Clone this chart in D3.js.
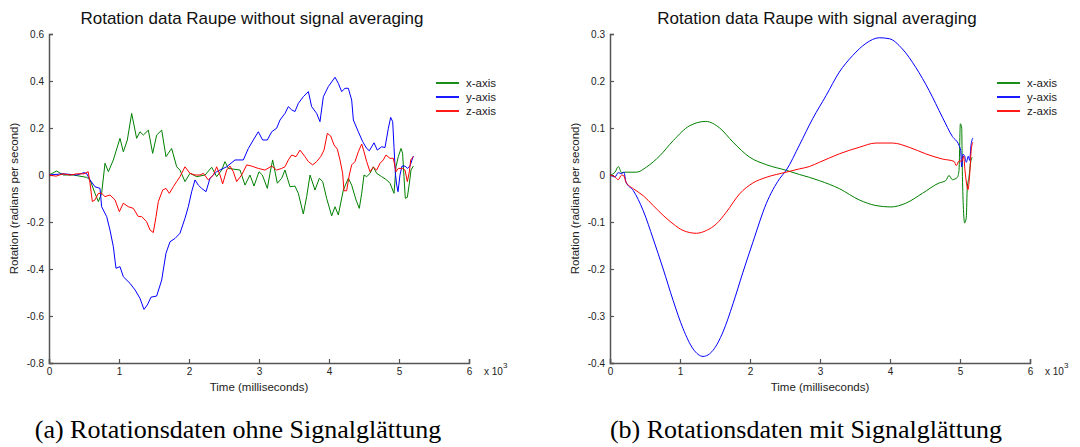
<!DOCTYPE html>
<html>
<head>
<meta charset="utf-8">
<script src="https://cdn.jsdelivr.net/npm/d3@7"></script>
<style>
  body { margin: 0; background: #fff; }
  svg { display: block; }
</style>
</head>
<body>
<div id="chart"></div>
<script>
// Series: [time (ms), rotation (rad/s)]
const rawX = [[0,0],[110,0.017],[205,0],[348,0],[443,-0.005],[538,-0.01],[586,-0.021],[657,-0.078],[705,-0.113],[752,-0.078],[800,0.05],[848,0.014],[919,0.064],[1014,0.156],[1062,0.099],[1119,0.149],[1181,0.262],[1252,0.156],[1300,0.184],[1348,0.17],[1419,0.191],[1481,0.092],[1538,0.17],[1610,0.191],[1671,0.078],[1752,0.113],[1824,0.035],[1871,0.021],[1943,-0.028],[2014,0.007],[2110,-0.007],[2229,0],[2324,0.033],[2395,-0.007],[2467,0.021],[2514,0.057],[2562,0.028],[2729,0.021],[2800,-0.043],[2871,0],[2929,-0.047],[3000,0.014],[3048,0],[3119,-0.057],[3157,0.007],[3195,0.064],[3262,-0.035],[3324,-0.014],[3371,0.021],[3443,-0.05],[3514,-0.047],[3562,-0.078],[3633,-0.166],[3681,-0.092],[3729,0],[3800,-0.064],[3862,-0.014],[3910,-0.028],[3967,-0.1],[4038,-0.174],[4086,-0.135],[4133,-0.17],[4205,-0.064],[4276,-0.014],[4324,-0.043],[4386,-0.106],[4433,-0.142],[4467,-0.078],[4500,0],[4538,-0.007],[4586,0.007],[4633,0.035],[4681,0.007],[4752,-0.007],[4824,-0.021],[4871,-0.035],[4929,-0.078],[4957,0.035],[4990,0.078],[5029,0.113],[5052,0.092],[5071,-0.007],[5090,-0.099],[5119,-0.095],[5148,-0.035],[5171,0.021],[5205,0.038]];

const rawY = [[0,0],[200,0.005],[400,0],[500,0.01],[540,0.005],[586,-0.021],[657,-0.05],[729,-0.057],[752,-0.135],[824,-0.177],[871,-0.234],[919,-0.305],[957,-0.397],[1014,-0.39],[1062,-0.433],[1157,-0.461],[1229,-0.489],[1300,-0.525],[1357,-0.572],[1405,-0.553],[1457,-0.52],[1538,-0.515],[1610,-0.447],[1671,-0.333],[1729,-0.284],[1800,-0.27],[1871,-0.248],[1943,-0.184],[1990,-0.135],[2038,-0.071],[2086,-0.021],[2133,-0.043],[2181,-0.057],[2243,-0.071],[2300,-0.014],[2395,0.014],[2538,0.035],[2657,0.064],[2776,0.064],[2848,0.113],[2919,0.149],[2990,0.184],[3052,0.149],[3119,0.149],[3181,0.184],[3252,0.199],[3300,0.234],[3371,0.262],[3419,0.291],[3467,0.277],[3514,0.27],[3562,0.305],[3633,0.333],[3705,0.355],[3752,0.291],[3824,0.262],[3871,0.227],[3919,0.333],[3990,0.376],[4086,0.416],[4133,0.39],[4181,0.355],[4229,0.369],[4276,0.369],[4324,0.319],[4348,0.234],[4419,0.184],[4481,0.142],[4538,0.113],[4576,0.103],[4643,0.137],[4690,0.106],[4752,0.12],[4800,0.117],[4848,0.199],[4881,0.245],[4910,0.227],[4929,0.117],[4948,0.007],[4967,-0.043],[4986,-0.071],[5014,0],[5043,0.038],[5086,0.038],[5119,0.028],[5157,0.038],[5205,0.081]];

const rawZ = [[0,0],[100,-0.005],[200,0.005],[300,0],[400,0.005],[500,0.005],[560,0.014],[586,-0.035],[619,-0.113],[657,-0.106],[705,-0.078],[752,-0.078],[800,-0.092],[871,-0.085],[943,-0.106],[1005,-0.156],[1062,-0.12],[1133,-0.135],[1205,-0.142],[1276,-0.177],[1324,-0.177],[1395,-0.199],[1443,-0.234],[1490,-0.245],[1529,-0.177],[1562,-0.113],[1624,-0.064],[1671,-0.057],[1719,-0.078],[1776,-0.05],[1824,-0.028],[1871,-0.007],[1943,0.035],[2014,0.007],[2086,0],[2157,0],[2205,0.007],[2276,-0.021],[2348,0],[2395,0.035],[2443,0],[2481,-0.038],[2538,0.021],[2586,0.038],[2633,0.014],[2681,-0.028],[2752,0],[2824,0.043],[2895,0.038],[2990,0.028],[3086,0.021],[3181,0.038],[3252,0.021],[3324,0.028],[3371,0.035],[3419,0.064],[3467,0.085],[3529,0.078],[3586,0.106],[3657,0.078],[3705,0.057],[3767,0.043],[3824,0.057],[3881,0.078],[3929,0.106],[3976,0.177],[4024,0.166],[4071,0.128],[4119,0.11],[4157,0.064],[4195,0.007],[4214,-0.067],[4252,-0.067],[4290,0],[4324,0.043],[4371,0.057],[4419,0.099],[4467,0.132],[4500,0.099],[4538,0.057],[4586,0.014],[4633,0.033],[4681,0.021],[4729,0.05],[4776,0.064],[4814,0.085],[4871,0.071],[4919,0.071],[4957,0.014],[4990,0.028],[5052,0.028],[5086,0.021],[5119,-0.028],[5148,0.014],[5167,0.064],[5205,0.078]];

const avgX = [[0,0],[71,0.006],[119,0.018],[166,0.005],[214,0.006],[380,0.006],[522,0.017],[712,0.041],[902,0.073],[1140,0.105],[1368,0.114],[1567,0.1],[1757,0.07],[1994,0.038],[2232,0.022],[2517,0.01],[2707,0.001],[2849,-0.005],[2991,-0.012],[3276,-0.029],[3561,-0.053],[3799,-0.065],[4013,-0.068],[4226,-0.06],[4463,-0.039],[4701,-0.017],[4796,-0.012],[4843,-0.001],[4891,-0.01],[4962,-0.005],[4986,0.01],[5005,0.109],[5024,0.1],[5033,0.01],[5047,-0.065],[5067,-0.102],[5090,-0.09],[5104,-0.026],[5128,-0.005],[5152,0.027],[5176,0.038]];

const avgY = [[0,0],[71,-0.004],[118,0.005],[166,0.003],[199,0.006],[228,-0.015],[332,-0.033],[475,-0.076],[617,-0.136],[760,-0.2],[902,-0.267],[1044,-0.327],[1187,-0.37],[1330,-0.386],[1472,-0.373],[1614,-0.334],[1757,-0.274],[1899,-0.207],[2041,-0.143],[2232,-0.061],[2422,-0.008],[2517,0.01],[2707,0.064],[2896,0.12],[3087,0.169],[3276,0.219],[3466,0.254],[3656,0.28],[3846,0.292],[3989,0.29],[4178,0.268],[4368,0.229],[4558,0.18],[4748,0.123],[4891,0.082],[4986,0.063],[5010,0.052],[5024,0.017],[5043,0.044],[5067,0.04],[5090,0.027],[5119,0.04],[5138,0.031],[5157,0.063],[5185,0.079]];

const avgZ = [[0,0],[71,-0.004],[118,-0.01],[166,0],[199,-0.002],[228,-0.015],[332,-0.029],[475,-0.044],[617,-0.065],[760,-0.086],[902,-0.104],[1044,-0.118],[1234,-0.124],[1377,-0.118],[1520,-0.104],[1662,-0.079],[1852,-0.04],[2041,-0.017],[2232,-0.005],[2517,0.006],[2707,0.013],[2849,0.018],[2991,0.027],[3276,0.045],[3561,0.059],[3799,0.068],[4036,0.068],[4274,0.059],[4511,0.045],[4748,0.034],[4915,0.029],[4948,0.02],[4986,0.03],[5024,0.029],[5052,0.04],[5071,0.01],[5095,-0.019],[5114,-0.031],[5138,0.001],[5162,0.056],[5185,0.07]];

const seriesNames = ["x-axis", "y-axis", "z-axis"];
const seriesColors = ["#008000", "#0000ff", "#ff0000"];
const xTicks = [0, 1000, 2000, 3000, 4000, 5000, 6000];
const rawYTicks = [-0.8, -0.6, -0.4, -0.2, 0, 0.2, 0.4, 0.6];
const avgYTicks = [-0.4, -0.3, -0.2, -0.1, 0, 0.1, 0.2, 0.3];

const width = 1080, height = 447;
const plotTop = 34, plotBottom = 363;

const svg = d3.select("#chart")
  .append("svg")
    .attr("width", width)
    .attr("height", height)
    .style("font-family", "'Liberation Sans', Arial, sans-serif");

svg.append("rect").attr("width", width).attr("height", height).attr("fill", "#fff");

const panels = [
  {x0: 49, x1: 469, title: "Rotation data Raupe without signal averaging", titleX: 252,
   ticks: rawYTicks, series: [rawX, rawY, rawZ], curve: d3.curveLinear,
   caption: "(a) Rotationsdaten ohne Signalglättung", capX: 238},
  {x0: 610, x1: 1030, title: "Rotation data Raupe with signal averaging", titleX: 817,
   ticks: avgYTicks, series: [avgX, avgY, avgZ], curve: d3.curveMonotoneX,
   caption: "(b) Rotationsdaten mit Signalglättung", capX: 806}
];

const fmt = d => d === 0 ? "0" : String(+d.toFixed(1));

panels.forEach(p => {
  const g = svg.append("g");

  const x = d3.scaleLinear().domain([0, 6000]).range([p.x0, p.x1]);
  const y = d3.scaleLinear().domain(d3.extent(p.ticks)).range([plotBottom, plotTop]);

  // X axis (ticks point inward)
  const xAxis = g.append("g")
    .attr("transform", `translate(0,${plotBottom})`)
    .call(d3.axisBottom(x).tickValues(xTicks).tickSize(-4).tickPadding(5)
      .tickFormat(d => d / 1000));
  // Y axis
  const yAxis = g.append("g")
    .attr("transform", `translate(${p.x0},0)`)
    .call(d3.axisLeft(y).tickValues(p.ticks).tickSize(-4).tickPadding(5)
      .tickFormat(fmt));

  [xAxis, yAxis].forEach(a => {
    a.select(".domain").attr("stroke", "#555").attr("stroke-width", 1.5);
    a.selectAll(".tick line").attr("stroke", "#555").attr("stroke-width", 1.2);
    a.selectAll(".tick text").attr("fill", "#222").style("font-size", "10px")
      .style("font-family", "'Liberation Sans', Arial, sans-serif");
  });

  // Data lines
  const line = d3.line()
    .x(d => x(d[0]))
    .y(d => y(d[1]))
    .curve(p.curve);

  p.series.forEach((s, i) => {
    g.append("path")
      .datum(s)
      .attr("fill", "none")
      .attr("stroke", seriesColors[i])
      .attr("stroke-width", 1)
      .attr("d", line);
  });

  // Title
  g.append("text")
    .attr("x", p.titleX)
    .attr("y", 24)
    .attr("text-anchor", "middle")
    .style("font-size", "17px")
    .attr("fill", "#111")
    .text(p.title);

  // Axis labels
  g.append("text")
    .attr("x", (p.x0 + p.x1) / 2)
    .attr("y", 391)
    .attr("text-anchor", "middle")
    .style("font-size", "11.5px")
    .attr("fill", "#222")
    .text("Time (milliseconds)");

  g.append("text")
    .attr("transform", `translate(${p.x0 - 31},${(plotTop + plotBottom) / 2}) rotate(-90)`)
    .attr("text-anchor", "middle")
    .style("font-size", "11.5px")
    .attr("fill", "#222")
    .text("Rotation (radians per second)");

  // x 10^3 multiplier
  const mult = g.append("text")
    .attr("x", p.x1 + 15)
    .attr("y", 375)
    .style("font-size", "10px")
    .attr("fill", "#222")
    .text("x 10");
  mult.append("tspan")
    .attr("dy", -7)
    .style("font-size", "8px")
    .text("3");

  // Legend
  const legend = g.append("g")
    .attr("transform", `translate(${p.x0 + 387},83)`);
  seriesNames.forEach((name, i) => {
    legend.append("line")
      .attr("x1", 0).attr("x2", 23)
      .attr("y1", i * 14).attr("y2", i * 14)
      .attr("stroke", seriesColors[i])
      .attr("stroke-width", 1.8);
    legend.append("text")
      .attr("x", 30)
      .attr("y", i * 14 + 4)
      .style("font-size", "11.5px")
      .attr("fill", "#222")
      .text(name);
  });

  // Sub-caption
  svg.append("text")
    .attr("x", p.capX)
    .attr("y", 438)
    .attr("text-anchor", "middle")
    .style("font-family", "'Liberation Serif', 'DejaVu Serif', serif")
    .style("font-size", "26px")
    .attr("fill", "#000")
    .text(p.caption);
});
</script>
</body>
</html>
